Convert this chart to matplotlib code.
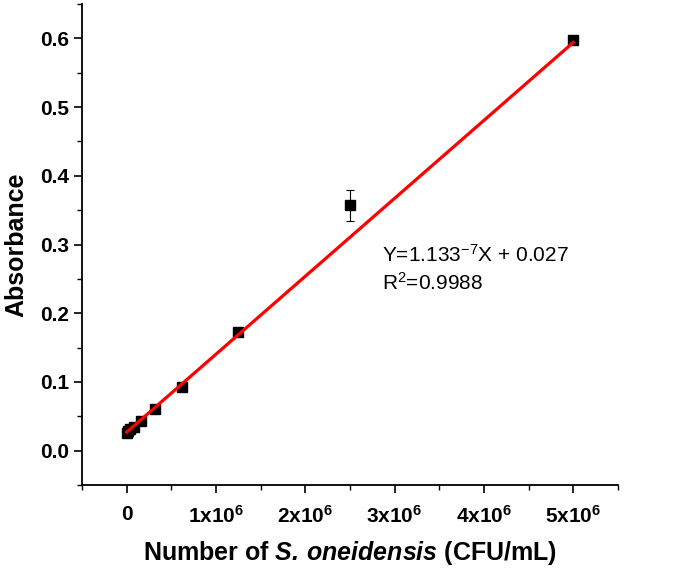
import numpy as np
import matplotlib
matplotlib.use('Agg')
import matplotlib.pyplot as plt
from matplotlib.ticker import MultipleLocator

plt.rcParams['font.family'] = 'Liberation Sans'
plt.rcParams['mathtext.fontset'] = 'custom'
plt.rcParams['mathtext.rm'] = 'Liberation Sans'
plt.rcParams['mathtext.it'] = 'Liberation Sans:italic'
plt.rcParams['mathtext.bf'] = 'Liberation Sans:bold'
plt.rcParams['mathtext.bfit'] = 'Liberation Sans:italic:bold'

# data
cells = [0, 1.95e4, 3.9e4, 7.8e4, 1.5625e5, 3.125e5, 6.25e5, 1.25e6, 2.5e6, 5e6]
absorb = [0.026, 0.028, 0.031, 0.035, 0.043, 0.060, 0.093, 0.172, 0.357, 0.598]
err = [0.002, 0.001, 0.001, 0.001, 0.001, 0.002, 0.003, 0.003, 0.023, 0.002]
fit_x = [0, 5e6]
fit_y = [0.027, 0.594]
x_ticks = [0, 1e6, 2e6, 3e6, 4e6, 5e6]
x_labels = ['0', r'1x10$^\mathbf{6}$', r'2x10$^\mathbf{6}$', r'3x10$^\mathbf{6}$',
            r'4x10$^\mathbf{6}$', r'5x10$^\mathbf{6}$']

fig = plt.figure(figsize=(6.8, 5.72), dpi=100)
ax = fig.add_axes([0.1206, 0.152, 0.788, 0.841])

ax.errorbar(cells, absorb, yerr=err, fmt='s', color='black', ms=7,
            ecolor='black', elinewidth=0.8, capsize=3, capthick=0.8, zorder=2)
ax.plot(fit_x, fit_y, color='red', lw=2.3, zorder=3)

ax.text(2.86e6, 0.275, r'Y=1.133$^{-7}$X + 0.027', fontsize=15)
ax.text(2.86e6, 0.234, r'R$^{2}$=0.9988', fontsize=15)

ax.set_xlim(-0.5e6, 5.5e6)
ax.set_ylim(-0.05, 0.65)
ax.set_xticks(x_ticks)
ax.set_xticklabels(x_labels)
ax.xaxis.set_minor_locator(MultipleLocator(0.5e6))
ax.set_yticks([0.0, 0.1, 0.2, 0.3, 0.4, 0.5, 0.6])
ax.set_yticklabels(['0.0', '0.1', '0.2', '0.3', '0.4', '0.5', '0.6'])
ax.yaxis.set_minor_locator(MultipleLocator(0.05))

ax.spines['top'].set_visible(False)
ax.spines['right'].set_visible(False)
for s in ['left', 'bottom']:
    ax.spines[s].set_linewidth(1.3)
ax.tick_params(which='major', direction='out', length=6, width=1.2, labelsize=15)
ax.tick_params(which='minor', direction='out', length=3.5, width=1.0)
ax.tick_params(axis='x', which='major', pad=8)
for lab in ax.get_xticklabels() + ax.get_yticklabels():
    lab.set_fontweight('bold')

ax.set_ylabel('Absorbance', fontsize=18, fontweight='bold', labelpad=8)
ax.set_xlabel(r'Number of $\mathbfit{S.\,oneidensis}$ (CFU/mL)', fontsize=18,
              fontweight='bold', labelpad=9)

fig.savefig('out.png', dpi=100)
plt.close(fig)
